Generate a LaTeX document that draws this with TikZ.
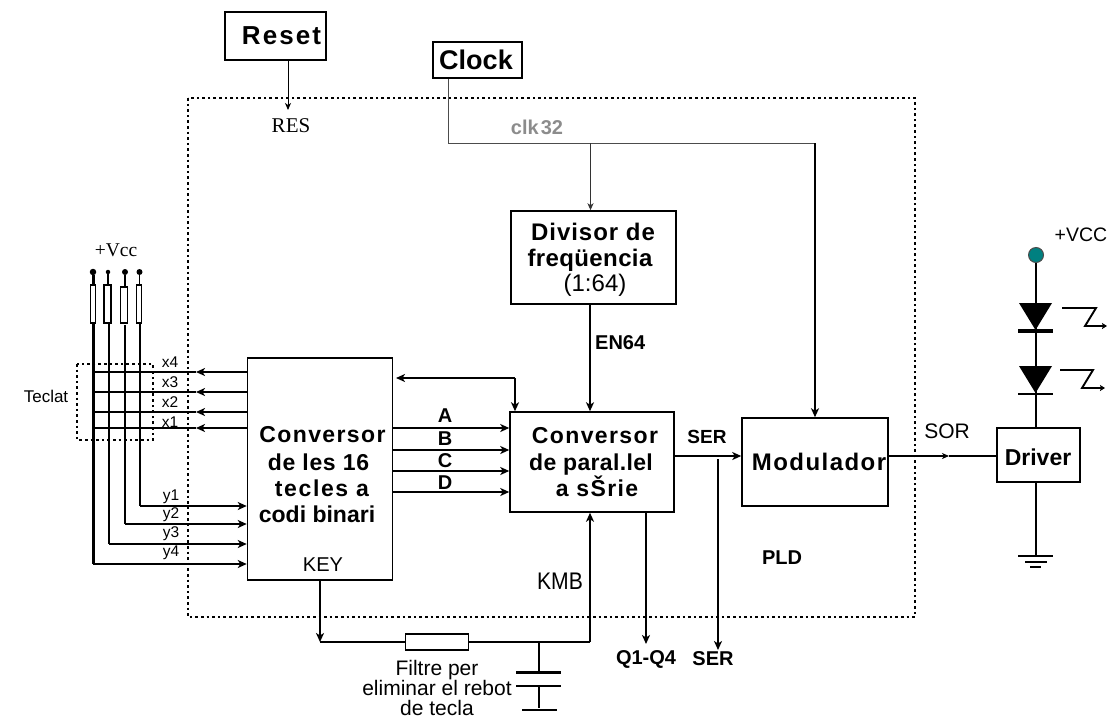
\documentclass[tikz,border=0pt]{standalone}
\usepackage{fontspec}
\setmainfont{Liberation Sans}
\newfontfamily\serifface{Liberation Serif}
\newcommand{\tracked}[2]{{\addfontfeature{LetterSpace=#1}#2}}
\usetikzlibrary{arrows.meta,shapes.geometric}
\tikzset{
  tip/.style={-{Stealth[length=9pt,width=8pt,inset=2.5pt]}},
  smalltip/.style={-{Stealth[length=7pt,width=6pt,inset=2pt]}},
  box/.style={draw,line width=1.5pt,inner sep=0pt,fill=white},
  thinw/.style={line width=1pt},
  midw/.style={line width=1.9pt},
  heavy/.style={line width=2.8pt},
  dotrect/.style={line width=2pt,dash pattern=on 2.6pt off 3pt},
  lab/.style={inner sep=0pt,font=\fontsize{15.5}{15.5}\selectfont},
  blab/.style={inner sep=0pt,font=\fontsize{20}{20}\selectfont\bfseries},
  plain/.style={inner sep=0pt,font=\fontsize{19}{19}\selectfont},
  big/.style={inner sep=0pt,font=\fontsize{23}{27.5}\selectfont\bfseries,align=center},
  res/.style={draw,line width=1.2pt,fill=white,inner sep=0pt},
  pin/.style={circle,fill=black,inner sep=0pt},
}
\begin{document}
\begin{tikzpicture}[x=1pt,y=-1pt]
\useasboundingbox (0,0) rectangle (1107,718);
% frames
\draw[dotrect] (188,98) rectangle (915,617);
\draw[dotrect] (77,364) rectangle (153,440);
% boxes
\node[box,minimum width=101pt,minimum height=48pt] (reset) at (275.5,36) {};
\node[box,minimum width=89pt,minimum height=36pt] (clock) at (477.5,60) {};
\node[box,minimum width=165pt,minimum height=93pt] (divisor) at (593.5,257.5) {};
\node[box,minimum width=145pt,minimum height=222pt] (conv1) at (320,469) {};
\node[box,minimum width=164pt,minimum height=100pt] (conv2) at (592,462) {};
\node[box,minimum width=146pt,minimum height=88pt] (modul) at (815,462) {};
\node[box,minimum width=83pt,minimum height=54pt] (driver) at (1038.5,455) {};
\node[inner sep=0pt,font=\fontsize{26}{26}\selectfont\bfseries] at (281.5,36) {\tracked{8}{Reset}};
\node[inner sep=0pt,font=\fontsize{27}{27}\selectfont\bfseries] at (476,60) {Clock};
\node[big,font=\fontsize{24}{24}\selectfont\bfseries] at (593,232) {\tracked{4}{Divisor de}};
\node[big,font=\fontsize{24}{24}\selectfont\bfseries] at (590,260) {\tracked{1.6}{freqüencia}};
\node[inner sep=0pt,font=\fontsize{24}{24}\selectfont] at (595,285) {(1:64)};
\node[big] at (322.5,435) {\tracked{6}{Conversor}};
\node[big] at (318.5,462) {\tracked{3}{de les 16}};
\node[big] at (322,488) {\tracked{7}{tecles a}};
\node[big] at (317,514) {codi binari};
\node[big] at (595,436) {\tracked{6}{Conversor}};
\node[big] at (591,464.5) {\tracked{1.5}{de paral.lel}};
\node[big] at (597,486.5) {\tracked{6}{a sŠrie}};
\node[big,font=\fontsize{24}{24}\selectfont\bfseries] at (819,462) {\tracked{6}{Modulador}};
\node[inner sep=0pt,font=\fontsize{23}{23}\selectfont\bfseries] at (1038,457) {Driver};
% clock and reset
\coordinate (resTip) at (288,110);
\coordinate (clkCorner) at (448,143);
\coordinate (clkTee) at (590.5,143);
\coordinate (clkEnd) at (815,143);
\draw[thinw,smalltip] (reset.south -| resTip) -- (resTip);
\draw[thinw,black!70] (clock.south -| clkCorner) -- (clkCorner) -- (clkEnd);
\draw[thinw,black!80,smalltip] (clkTee) -- (clkTee |- divisor.north);
\draw[heavy,tip] (clkEnd) -- (clkEnd |- modul.north);
\node[inner sep=0pt,font=\fontsize{21}{21}\selectfont\serifface] at (291,126) {RES};
\node[inner sep=0pt,text=black!45,font=\fontsize{20}{20}\selectfont\bfseries] at (537,127) {clk\kern2pt 32};
% divisor - conv2
\coordinate (enx) at (590,342);
\draw[midw,tip] (divisor.south -| enx) -- (enx |- conv2.north);
\node[blab,anchor=west] at (595,343) {EN64};
% conv1 - conv2 data
\foreach \yy/\nm/\lw/\ly in {428/A/midw/416,450/B/heavy/439,471/C/heavy/461,492/D/midw/483}{
  \draw[\lw,tip] (conv1.east |- 0,\yy) -- (conv2.west |- 0,\yy);
  \node[blab] at (445,\ly) {\nm};
}
% feedback
\coordinate (fbk) at (515,378);
\draw[line width=2.8pt,tip] (fbk) -- (396,378);
\draw[line width=2.8pt,tip] (fbk) -- (fbk |- conv2.north);
% ser
\coordinate (serY) at (0,456);
\draw[midw,tip] (conv2.east |- serY) -- (modul.west |- serY);
\node[blab,font=\fontsize{19}{19}\selectfont\bfseries] at (707,437) {SER};
\coordinate (serA) at (718,459);
\coordinate (serB) at (718,650);
\draw[line width=2.6pt,tip] (serA) -- (serB);
\coordinate (qEnd) at (646,644);
\draw[line width=2.6pt,tip] (conv2.south -| qEnd) -- (qEnd);
\node[blab] at (646,659) {Q1-Q4};
\node[blab] at (713,659) {SER};
% SOR
\coordinate (sorTip) at (949,456);
\draw[midw,smalltip] (modul.east |- sorTip) -- (sorTip);
\draw[midw] (sorTip) -- (driver.west |- sorTip);
\node[plain,font=\fontsize{21}{21}\selectfont] at (947,431) {SOR};
\node[blab] at (782,558) {PLD};
% filter
\node[res,line width=1.5pt,minimum width=63pt,minimum height=16pt] (filt) at (437,642) {};
\coordinate (keyC) at (320,642);
\coordinate (kmbC) at (590,642);
\coordinate (capT) at (539,642);
\draw[midw,tip] (conv1.south -| keyC) -- (keyC);
\draw[midw] (keyC) -- (filt.west);
\draw[midw] (filt.east) -- (kmbC);
\draw[midw,tip] (kmbC) -- (kmbC |- conv2.south);
\coordinate (capA) at (539,672);
\coordinate (capB) at (539,686);
\coordinate (capC) at (539,708);
\draw[heavy] (capT) -- (capA);
\draw[line width=3pt] (516,672.5) -- (561,672.5);
\draw[line width=2pt] (516,686) -- (561,686);
\draw[line width=2.4pt] (capB) -- (capC);
\draw[line width=2pt] (522,710) -- (557,710);
\node[lab,font=\fontsize{21}{20}\selectfont,align=center] at (437,688) {Filtre per\\eliminar el rebot\\de tecla};
\node[plain,font=\fontsize{20}{20}\selectfont] at (323,565) {KEY};
\node[plain,font=\fontsize{24}{24}\selectfont,xscale=.88] at (560,581) {KMB};
% keyboard
\node[inner sep=0pt,font=\fontsize{17}{17}\selectfont] at (46,396) {Teclat};
\node[inner sep=0pt,font=\fontsize{19.5}{19.5}\selectfont\serifface] at (116,250) {+Vcc};
\foreach \nm/\xx/\dd/\lw in {a/93/6.5/3pt,b/108/4.5/2pt,c/125/6/2.6pt,d/139.5/6/1.8pt}{
  \node[pin,minimum size=\dd pt] (p\nm) at (\xx,272) {};
  \draw[line width=\lw] (p\nm) -- (\xx,290);
}
\node[res,minimum width=5pt,minimum height=38pt] (ra) at (93,304) {};
\node[res,minimum width=7pt,minimum height=38pt] (rb) at (107.5,304) {};
\node[res,minimum width=7pt,minimum height=36pt] (rc) at (124,305) {};
\node[res,minimum width=4.5pt,minimum height=38pt] (rd) at (139,304) {};
\coordinate (ya) at (93,564);
\coordinate (yb) at (109,544);
\coordinate (yc) at (125,524);
\coordinate (yd) at (140,506);
\draw[line width=3pt] (ra.south) -- (ya);
\draw[line width=2.6pt] (109,323) -- (yb);
\draw[line width=2.4pt] (125,325) -- (yc);
\draw[line width=1.8pt] (rd.south -| yd) -- (yd);
\draw[midw,tip] (ya) -- (conv1.west |- ya);
\draw[midw,tip] (yb) -- (conv1.west |- yb);
\draw[midw,tip] (yc) -- (conv1.west |- yc);
\draw[line width=2.6pt,tip] (yd) -- (conv1.west |- yd);
\foreach \yy/\ttx/\ly in {372/x4/362,392/x3/382,412/x2/402,428/x1/422}{
  \draw[midw,tip] (conv1.west |- 0,\yy) -- (196,\yy);
  \draw[midw] (196,\yy) -- (93,\yy);
  \node[lab] at (170,\ly) {\ttx};
}
\foreach \ttx/\ly in {y1/497,y2/515,y3/534,y4/553}{
  \node[lab] at (171,\ly) {\ttx};
}
% LEDs
\node[circle,draw=black!70,fill=teal,line width=1pt,minimum size=15pt,inner sep=0pt] (vcc) at (1036,255) {};
\node[plain,font=\fontsize{19.5}{19.5}\selectfont] at (1081,235) {+VCC};
\draw[line width=2.8pt] (vcc) -- (driver.north -| vcc);
\draw[line width=2.8pt] (driver.south -| vcc) -- (vcc |- 0,556);
\fill (1019,303) -- (1052,303) -- (1035.5,330) -- cycle;
\draw[line width=4.5pt] (1018,331) -- (1053,331);
\fill (1019,366) -- (1052,366) -- (1035.5,393) -- cycle;
\draw[line width=2.8pt] (1018,394) -- (1053,394);
\draw[midw,-{Stealth[length=5pt,width=6pt,inset=1pt]}] (1062,308) -- (1096,308) -- (1085,326) -- (1107,326);
\draw[midw,-{Stealth[length=5pt,width=6pt,inset=1pt]}] (1060,370) -- (1093,370) -- (1082,388) -- (1105,388);
\draw[line width=2pt] (1018,556) -- (1053,556);
\draw[line width=2pt] (1025,562) -- (1047,562);
\draw[line width=1.6pt] (1030,567) -- (1041,567);
\end{tikzpicture}
\end{document}
